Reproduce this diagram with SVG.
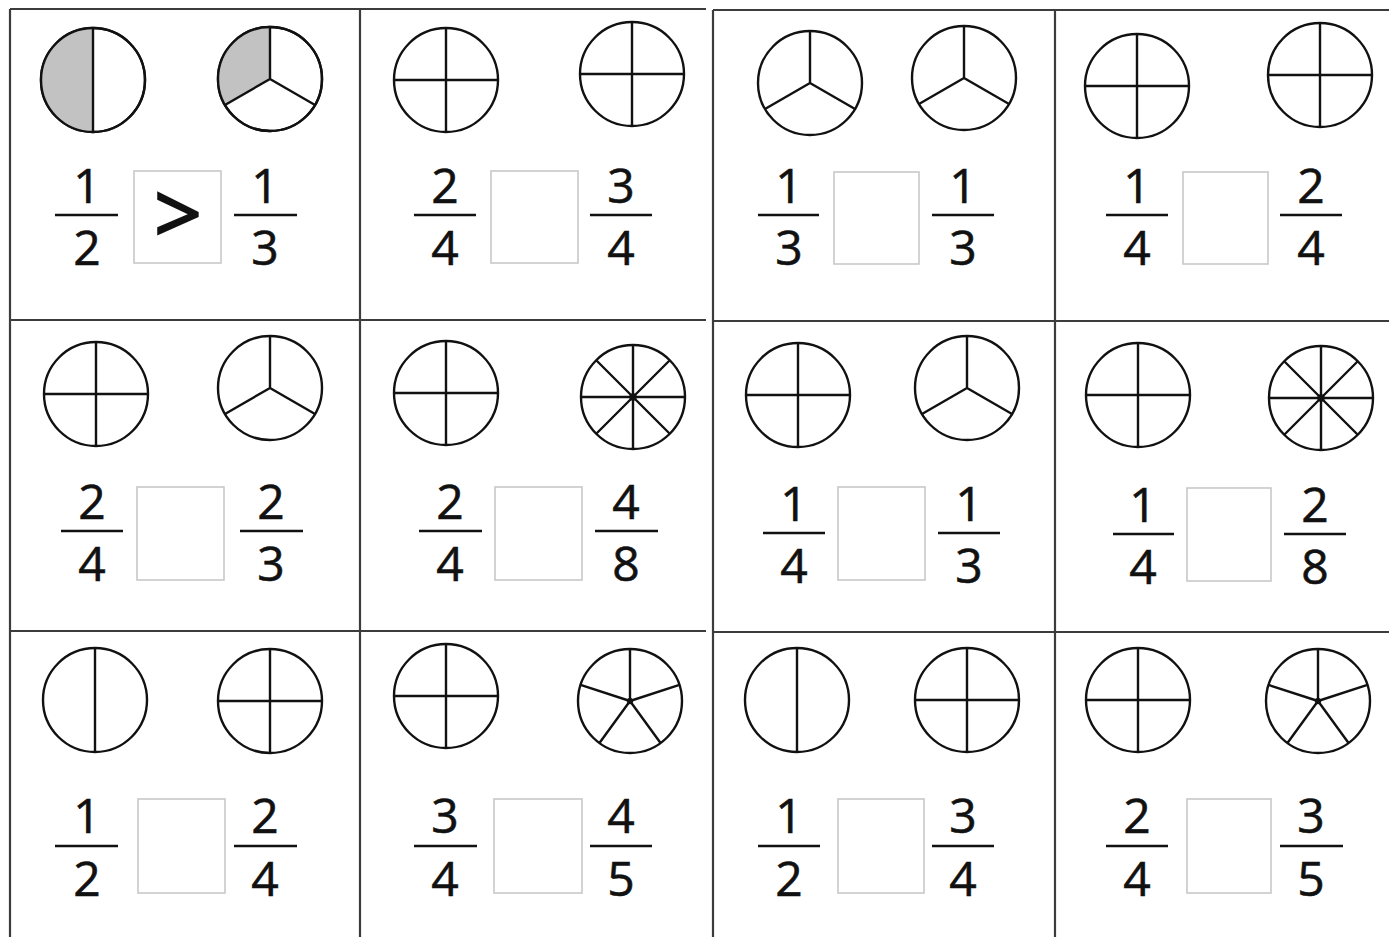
<svg xmlns="http://www.w3.org/2000/svg" xmlns:xlink="http://www.w3.org/1999/xlink" width="1389" height="937" viewBox="0 0 1389 937">
<style>
.grid{stroke:#3c3c3c;stroke-width:2.2;fill:none}
.pie{fill:none;stroke:#111;stroke-width:2.4}
.pie circle{fill:#fff}
.shade{fill:#c2c2c2;stroke:none}
.bar{stroke:#111;stroke-width:2.6}
.box{fill:#fff;stroke:#c8c8c8;stroke-width:1.6}
.num{font-family:"Open Sans","Liberation Sans",sans-serif;font-size:48px;font-weight:500;fill:#111;stroke:#111;stroke-width:0.6;text-anchor:middle}
.sym{font-family:"Open Sans","Liberation Sans",sans-serif;font-size:84px;fill:#111;stroke:#111;stroke-width:2;text-anchor:middle}
</style>
<defs>
<g id="p2" class="pie"><circle r="52"/><line x1="0" y1="-52" x2="0" y2="52"/></g>
<g id="p3" class="pie"><circle r="52"/><path d="M0,0V-52M0,0L45.03,26M0,0L-45.03,26"/></g>
<g id="p4" class="pie"><circle r="52"/><path d="M0,-52V52M-52,0H52"/></g>
<g id="p5" class="pie"><circle r="52"/><path d="M0,0V-52M0,0L49.45,-16.07M0,0L30.56,42.07M0,0L-30.56,42.07M0,0L-49.45,-16.07"/><circle r="2" style="fill:#111"/></g>
<g id="p8" class="pie"><circle r="52"/><path d="M0,-52V52M-52,0H52M-36.77,-36.77L36.77,36.77M36.77,-36.77L-36.77,36.77"/><circle r="2.5" style="fill:#111"/></g>
</defs>

<g id="grid-lines">
<path class="grid" d="M10,9H706M10,9V937M360,9V937M10,320H706M10,631H706"/>
<path class="grid" d="M713,10H1389M713,10V937M1055,10V937M713,321H1389M713,632H1389"/>
</g>

<g id="cell-1-1">
<g class="pie"><circle cx="93" cy="80" r="52"/></g>
<path class="shade" d="M93,28A52,52 0 0 0 93,132Z"/>
<g class="pie"><circle cx="93" cy="80" r="52" style="fill:none"/><line x1="93" y1="28" x2="93" y2="132"/></g>
<g class="pie"><circle cx="270" cy="79" r="52"/></g>
<path class="shade" d="M270,79V27A52,52 0 0 0 224.97,105Z"/>
<g class="pie"><circle cx="270" cy="79" r="52" style="fill:none"/><path d="M270,79V27M270,79L315.03,105M270,79L224.97,105"/></g>
<text class="num" x="87" y="203">1</text><line class="bar" x1="55" y1="215" x2="118" y2="215"/><text class="num" x="87" y="265">2</text>
<rect class="box" x="134" y="171" width="87" height="92"/>
<text class="sym" x="178" y="244">&gt;</text>
<text class="num" x="265" y="203">1</text><line class="bar" x1="234" y1="215" x2="297" y2="215"/><text class="num" x="265" y="265">3</text>
</g>

<g id="cell-1-2">
<use xlink:href="#p4" x="446" y="80"/>
<use xlink:href="#p4" x="632" y="74"/>
<text class="num" x="445" y="203">2</text><line class="bar" x1="414" y1="215" x2="476" y2="215"/><text class="num" x="445" y="265">4</text>
<rect class="box" x="491" y="171" width="87" height="92"/>
<text class="num" x="621" y="203">3</text><line class="bar" x1="590" y1="215" x2="652" y2="215"/><text class="num" x="621" y="265">4</text>
</g>

<g id="cell-1-3">
<use xlink:href="#p3" x="810" y="83"/>
<use xlink:href="#p3" x="964" y="78"/>
<text class="num" x="789" y="203">1</text><line class="bar" x1="758" y1="215" x2="819" y2="215"/><text class="num" x="789" y="265">3</text>
<rect class="box" x="834" y="172" width="85" height="92"/>
<text class="num" x="963" y="203">1</text><line class="bar" x1="932" y1="215" x2="994" y2="215"/><text class="num" x="963" y="265">3</text>
</g>

<g id="cell-1-4">
<use xlink:href="#p4" x="1137" y="86"/>
<use xlink:href="#p4" x="1320" y="75"/>
<text class="num" x="1137" y="203">1</text><line class="bar" x1="1106" y1="215" x2="1168" y2="215"/><text class="num" x="1137" y="265">4</text>
<rect class="box" x="1183" y="172" width="85" height="92"/>
<text class="num" x="1311" y="203">2</text><line class="bar" x1="1280" y1="215" x2="1342" y2="215"/><text class="num" x="1311" y="265">4</text>
</g>

<g id="cell-2-1">
<use xlink:href="#p4" x="96" y="394"/>
<use xlink:href="#p3" x="270" y="388"/>
<text class="num" x="92" y="519">2</text><line class="bar" x1="61" y1="531" x2="123" y2="531"/><text class="num" x="92" y="581">4</text>
<rect class="box" x="137" y="487" width="87" height="93"/>
<text class="num" x="271" y="519">2</text><line class="bar" x1="240" y1="531" x2="303" y2="531"/><text class="num" x="271" y="581">3</text>
</g>

<g id="cell-2-2">
<use xlink:href="#p4" x="446" y="393"/>
<use xlink:href="#p8" x="633" y="397"/>
<text class="num" x="450" y="519">2</text><line class="bar" x1="419" y1="531" x2="482" y2="531"/><text class="num" x="450" y="581">4</text>
<rect class="box" x="495" y="487" width="87" height="93"/>
<text class="num" x="626" y="519">4</text><line class="bar" x1="595" y1="531" x2="658" y2="531"/><text class="num" x="626" y="581">8</text>
</g>

<g id="cell-2-3">
<use xlink:href="#p4" x="798" y="395"/>
<use xlink:href="#p3" x="967" y="388"/>
<text class="num" x="794" y="521">1</text><line class="bar" x1="763" y1="533" x2="825" y2="533"/><text class="num" x="794" y="583">4</text>
<rect class="box" x="838" y="487" width="87" height="93"/>
<text class="num" x="969" y="521">1</text><line class="bar" x1="938" y1="533" x2="1000" y2="533"/><text class="num" x="969" y="583">3</text>
</g>

<g id="cell-2-4">
<use xlink:href="#p4" x="1138" y="395"/>
<use xlink:href="#p8" x="1321" y="398"/>
<text class="num" x="1143" y="522">1</text><line class="bar" x1="1113" y1="534" x2="1174" y2="534"/><text class="num" x="1143" y="584">4</text>
<rect class="box" x="1187" y="488" width="84" height="93"/>
<text class="num" x="1315" y="522">2</text><line class="bar" x1="1284" y1="534" x2="1346" y2="534"/><text class="num" x="1315" y="584">8</text>
</g>

<g id="cell-3-1">
<use xlink:href="#p2" x="95" y="700"/>
<use xlink:href="#p4" x="270" y="701"/>
<text class="num" x="87" y="833">1</text><line class="bar" x1="55" y1="846" x2="118" y2="846"/><text class="num" x="87" y="896">2</text>
<rect class="box" x="138" y="799" width="87" height="94"/>
<text class="num" x="265" y="833">2</text><line class="bar" x1="234" y1="846" x2="297" y2="846"/><text class="num" x="265" y="896">4</text>
</g>

<g id="cell-3-2">
<use xlink:href="#p4" x="446" y="696"/>
<use xlink:href="#p5" x="630" y="701"/>
<text class="num" x="445" y="833">3</text><line class="bar" x1="414" y1="846" x2="477" y2="846"/><text class="num" x="445" y="896">4</text>
<rect class="box" x="494" y="799" width="88" height="94"/>
<text class="num" x="621" y="833">4</text><line class="bar" x1="590" y1="846" x2="652" y2="846"/><text class="num" x="621" y="896">5</text>
</g>

<g id="cell-3-3">
<use xlink:href="#p2" x="797" y="700"/>
<use xlink:href="#p4" x="967" y="700"/>
<text class="num" x="789" y="833">1</text><line class="bar" x1="758" y1="846" x2="820" y2="846"/><text class="num" x="789" y="896">2</text>
<rect class="box" x="838" y="799" width="86" height="94"/>
<text class="num" x="963" y="833">3</text><line class="bar" x1="932" y1="846" x2="994" y2="846"/><text class="num" x="963" y="896">4</text>
</g>

<g id="cell-3-4">
<use xlink:href="#p4" x="1138" y="700"/>
<use xlink:href="#p5" x="1318" y="701"/>
<text class="num" x="1137" y="833">2</text><line class="bar" x1="1106" y1="846" x2="1168" y2="846"/><text class="num" x="1137" y="896">4</text>
<rect class="box" x="1187" y="799" width="84" height="94"/>
<text class="num" x="1311" y="833">3</text><line class="bar" x1="1280" y1="846" x2="1343" y2="846"/><text class="num" x="1311" y="896">5</text>
</g>
</svg>
